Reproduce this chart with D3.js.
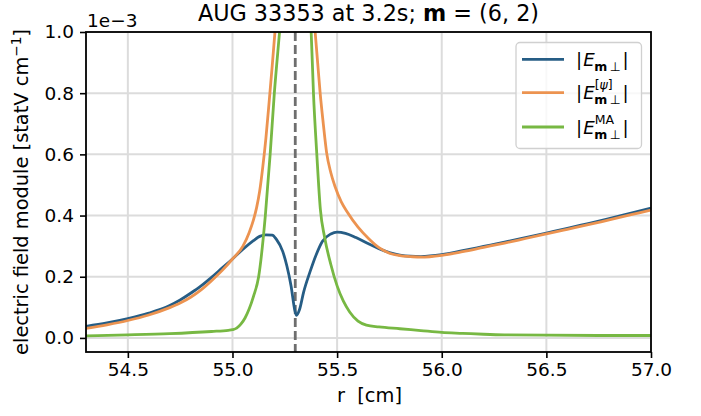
<!DOCTYPE html>
<html><head><meta charset="utf-8">
<script src="https://cdn.jsdelivr.net/npm/d3@7"></script>
<style>
body{margin:0;background:#fff;}
text{font-family:"DejaVu Sans",sans-serif;fill:#000;}
</style></head>
<body><svg id="c" width="701" height="416"></svg>
<script>
// ---- data (values in units of 1e-3 statV/cm) ----
const xTicks = [54.5, 55.0, 55.5, 56.0, 56.5, 57.0];
const yTicks = [0.0, 0.2, 0.4, 0.6, 0.8, 1.0];
const resonanceR = 55.3;

const rBlue = [54.30,54.40,54.50,54.60,54.70,54.75,54.80,54.85,54.90,54.95,55.00,55.05,55.10,55.13,55.16,55.19,55.21,55.24,55.26,55.28,55.298,55.306,55.32,55.34,55.37,55.40,55.43,55.47,55.50,55.54,55.59,55.65,55.70,55.75,55.80,55.85,55.90,56.00,56.10,56.20,56.30,56.40,56.50,56.60,56.70,56.80,56.90,57.00];
const eBlue = [0.038,0.049,0.063,0.081,0.106,0.124,0.146,0.170,0.198,0.228,0.258,0.290,0.318,0.332,0.337,0.336,0.322,0.283,0.235,0.170,0.090,0.074,0.092,0.150,0.215,0.272,0.316,0.340,0.346,0.342,0.328,0.308,0.292,0.279,0.271,0.267,0.266,0.272,0.285,0.299,0.313,0.328,0.343,0.358,0.374,0.390,0.407,0.424];

const rOrange = [54.30,54.40,54.50,54.60,54.70,54.75,54.80,54.85,54.90,54.95,55.00,55.05,55.08,55.10,55.115,55.13,55.145,55.16,55.175,55.19,55.203,55.22,null,55.38,55.395,55.407,55.419,55.434,55.45,55.47,55.49,55.52,55.55,55.60,55.65,55.70,55.75,55.80,55.85,55.90,56.00,56.10,56.20,56.30,56.40,56.50,56.60,56.70,56.80,56.90,57.00];
const eOrange = [0.031,0.043,0.057,0.075,0.099,0.114,0.133,0.157,0.187,0.220,0.258,0.300,0.345,0.385,0.425,0.480,0.560,0.655,0.770,0.890,1.000,1.150,null,1.130,1.000,0.900,0.800,0.700,0.605,0.540,0.495,0.445,0.410,0.362,0.325,0.295,0.277,0.269,0.266,0.264,0.270,0.282,0.296,0.310,0.325,0.340,0.355,0.370,0.386,0.402,0.418];

const rGreen = [54.30,54.50,54.70,54.90,54.98,55.00,55.02,55.04,55.06,55.08,55.10,55.125,55.157,55.18,55.20,55.225,55.24,null,55.365,55.376,55.387,55.403,55.42,55.44,55.47,55.50,55.53,55.56,55.60,55.64,55.70,55.80,55.90,56.00,56.10,56.20,56.30,56.50,56.75,57.00];
const eGreen = [0.007,0.010,0.014,0.021,0.025,0.027,0.032,0.045,0.065,0.095,0.135,0.200,0.400,0.600,0.800,1.000,1.120,null,1.120,1.000,0.800,0.600,0.420,0.330,0.240,0.170,0.120,0.085,0.055,0.042,0.036,0.030,0.024,0.018,0.015,0.012,0.010,0.009,0.008,0.008];

const colors = {blue:"#265d85", orange:"#ec9350", green:"#77b843"};

// ---- layout ----
const svg = d3.select("#c");
const L = 86, R = 651, T = 32, B = 352;
const x = d3.scaleLinear().domain([54.3, 57.0]).range([L, R]);
const y = d3.scaleLinear().domain([-0.046, 1.0]).range([B, T]);

svg.append("defs").append("clipPath").attr("id","clip")
  .append("rect").attr("x",L).attr("y",T).attr("width",R-L).attr("height",B-T);

// grid
const grid = svg.append("g");
grid.selectAll(".gx").data(xTicks).enter().append("line")
  .attr("x1",d=>x(d)).attr("x2",d=>x(d)).attr("y1",T).attr("y2",B)
  .attr("stroke","#dcdcdc").attr("stroke-width",2);
grid.selectAll(".gy").data(yTicks).enter().append("line")
  .attr("y1",d=>y(d)).attr("y2",d=>y(d)).attr("x1",L).attr("x2",R)
  .attr("stroke","#dcdcdc").attr("stroke-width",2);

const plot = svg.append("g").attr("clip-path","url(#clip)");

// resonance dashed line
plot.append("line").attr("x1",x(resonanceR)).attr("x2",x(resonanceR))
  .attr("y1",T).attr("y2",B).attr("stroke","#6e6e6e").attr("stroke-width",2.8)
  .attr("stroke-dasharray","9,4");

function series(rs, es){ return rs.map((r,i)=>[r, es[i]]); }
const line = d3.line().defined(d=>d[0]!==null && d[1]!==null)
  .x(d=>x(d[0])).y(d=>y(d[1])).curve(d3.curveMonotoneX);

[[rBlue,eBlue,colors.blue],[rOrange,eOrange,colors.orange],[rGreen,eGreen,colors.green]]
.forEach(([rs,es,c])=>{
  plot.append("path").datum(series(rs,es)).attr("d",line)
    .attr("fill","none").attr("stroke",c).attr("stroke-width",2.8)
    .attr("stroke-linejoin","round").attr("stroke-linecap","butt");
});

// frame
svg.append("rect").attr("x",L).attr("y",T).attr("width",R-L).attr("height",B-T)
  .attr("fill","none").attr("stroke","#000").attr("stroke-width",1.8);

// axes
const xAxis = d3.axisBottom(x).tickValues(xTicks).tickFormat(d3.format(".1f")).tickSize(6).tickPadding(5);
const gx = svg.append("g").attr("transform",`translate(0,${B})`).call(xAxis);
const yAxis = d3.axisLeft(y).tickValues(yTicks).tickFormat(d3.format(".1f")).tickSize(6).tickPadding(6);
const gy = svg.append("g").attr("transform",`translate(${L},0)`).call(yAxis);
[gx,gy].forEach(g=>{
  g.select(".domain").remove();
  g.selectAll(".tick line").attr("stroke","#000").attr("stroke-width",1.6);
  g.selectAll(".tick text").attr("font-family","DejaVu Sans").attr("font-size",18.5).attr("fill","#000");
});

// offset text
svg.append("text").attr("x",L+1).attr("y",27).attr("font-size",18.5).text("1e\u22123");

// title
const title = svg.append("text").attr("x",(L+R)/2).attr("y",21).attr("text-anchor","middle").attr("font-size",22.3);
title.append("tspan").text("AUG 33353 at 3.2s; ");
title.append("tspan").attr("font-weight","bold").text("m");
title.append("tspan").attr("xml:space","preserve").text(" = (6, 2)");

// x label
svg.append("text").attr("x",(L+R)/2 + 1).attr("y",402).attr("text-anchor","middle").attr("font-size",19.4)
  .attr("xml:space","preserve").text("r  [cm]");

// y label
const yl = svg.append("text").attr("transform",`translate(28,${(T+B)/2}) rotate(-90)`)
  .attr("text-anchor","middle").attr("font-size",19.4);
yl.append("tspan").text("electric field module [statV cm");
yl.append("tspan").attr("font-size",13.6).attr("dy",-7.5).text("\u22121");
yl.append("tspan").attr("dy",7.5).text("]");

// legend
const lg = svg.append("g");
lg.append("rect").attr("x",516).attr("y",42.5).attr("width",125.5).attr("height",106)
  .attr("rx",4).attr("fill","rgba(255,255,255,0.8)").attr("stroke","#d0d0d0").attr("stroke-width",1.3);

const legendItems = [
  {c:colors.blue, sup:null},
  {c:colors.orange, sup:"psi"},
  {c:colors.green, sup:"MA"}
];
const rowY = [59.3, 92.7, 127];
legendItems.forEach((it,i)=>{
  const yy = rowY[i];
  lg.append("line").attr("x1",522).attr("x2",564).attr("y1",yy).attr("y2",yy)
    .attr("stroke",it.c).attr("stroke-width",2.8);
  const base = yy + 6.5;
  const t = lg.append("text").attr("x",576).attr("y",base).attr("font-size",18.2);
  t.append("tspan").text("|");
  t.append("tspan").attr("dx",1).attr("font-style","italic").text("E");
  const sub = t.append("tspan").attr("font-size",12.5).attr("dx",-0.5).attr("dy",5);
  sub.append("tspan").attr("font-weight","bold").text("m");
  sub.append("tspan").text("\u2009\u22A5");
  const subW = sub.node().getComputedTextLength();
  if(it.sup){
    const sp = t.append("tspan").attr("font-size",12.5).attr("dx",-subW+0.5).attr("dy",-15);
    if(it.sup==="psi"){
      sp.append("tspan").text("[");
      sp.append("tspan").attr("font-style","italic").text("\u03C8");
      sp.append("tspan").text("]");
    } else {
      sp.text("MA");
    }
    const spW = sp.node().getComputedTextLength() + 0.5;
    t.append("tspan").attr("dy",10).attr("dx",Math.max(0, subW - spW) + 2).text("|");
  } else {
    t.append("tspan").attr("dy",-5).attr("dx",2).text("|");
  }
});
</script></body></html>
